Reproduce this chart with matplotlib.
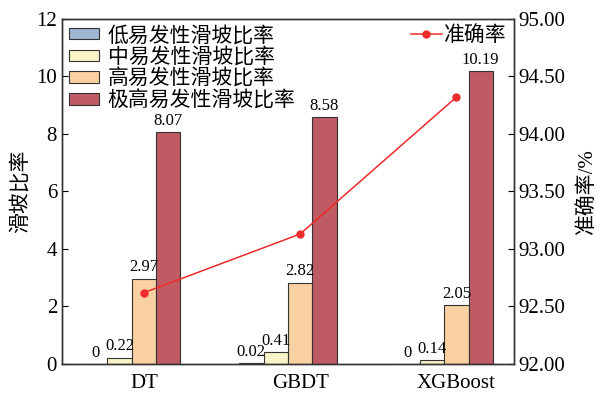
import numpy as np
import matplotlib
matplotlib.use("Agg")
import matplotlib.pyplot as plt

plt.rcParams['font.family'] = ['Liberation Serif', 'Noto Sans CJK SC']
plt.rcParams['axes.unicode_minus'] = False

models = ['DT', 'GBDT', 'XGBoost']
low_ratio = [0, 0.02, 0]
mid_ratio = [0.22, 0.41, 0.14]
high_ratio = [2.97, 2.82, 2.05]
very_high_ratio = [8.07, 8.58, 10.19]
accuracy = [92.62, 93.13, 94.32]

series = [
    ('低易发性滑坡比率', low_ratio, '#9fb6d3'),
    ('中易发性滑坡比率', mid_ratio, '#f8f4c8'),
    ('高易发性滑坡比率', high_ratio, '#f9d1a2'),
    ('极高易发性滑坡比率', very_high_ratio, '#c05a63'),
]

fig = plt.figure(figsize=(5.96, 3.93), dpi=100)
ax = fig.add_axes([0.104, 0.0738, 0.7584, 0.8779])
ax2 = ax.twinx()

x = np.arange(len(models))
w = 0.156
offsets = [-2 * w, -w, 0, w]
handles = []
for (name, vals, color), off in zip(series, offsets):
    bars = ax.bar(x + off, vals, w, color=color, edgecolor='#333333',
                  linewidth=0.8, label=name, zorder=2)
    handles.append(bars)
    for xi, v in zip(x + off, vals):
        ax.text(xi, v + 0.12, f'{v:g}', ha='center', va='bottom', fontsize=12)

ax.set_xlim(-0.524, 2.369)
ax.set_ylim(0, 12)
ax.set_yticks(range(0, 13, 2))
ax.set_xticks(x)
ax.set_xticklabels(models)
ax.set_ylabel('滑坡比率', fontsize=15, labelpad=4)
ax.tick_params(axis='both', direction='in', labelsize=15, length=4, width=0.8)
ax.tick_params(axis='x', pad=7)

line, = ax2.plot(x, accuracy, color='#ee2b2b', marker='o', markersize=5,
                 linewidth=1.1, label='准确率', zorder=3)
ax2.set_ylim(92, 95)
ax2.set_yticks(np.arange(92, 95.01, 0.5))
ax2.set_yticklabels([f'{v:.2f}' for v in np.arange(92, 95.01, 0.5)])
ax2.set_ylabel('准确率/%', fontsize=15, labelpad=8)
ax2.tick_params(axis='y', direction='in', labelsize=15, length=4, width=0.8)

for a in (ax, ax2):
    for s in a.spines.values():
        s.set_color('#333333')
        s.set_linewidth(1.0)

ax.legend(handles=handles, loc='upper left', frameon=False, fontsize=15,
          handlelength=1.45, handleheight=0.45, handletextpad=0.4,
          labelspacing=0.08, borderaxespad=0.15, borderpad=0.2)
ax2.legend(handles=[line], loc='upper right', frameon=False, fontsize=15,
           handlelength=1.5, handletextpad=0.1, borderaxespad=0.15, borderpad=0.2)

fig.savefig('out.png', dpi=100)
